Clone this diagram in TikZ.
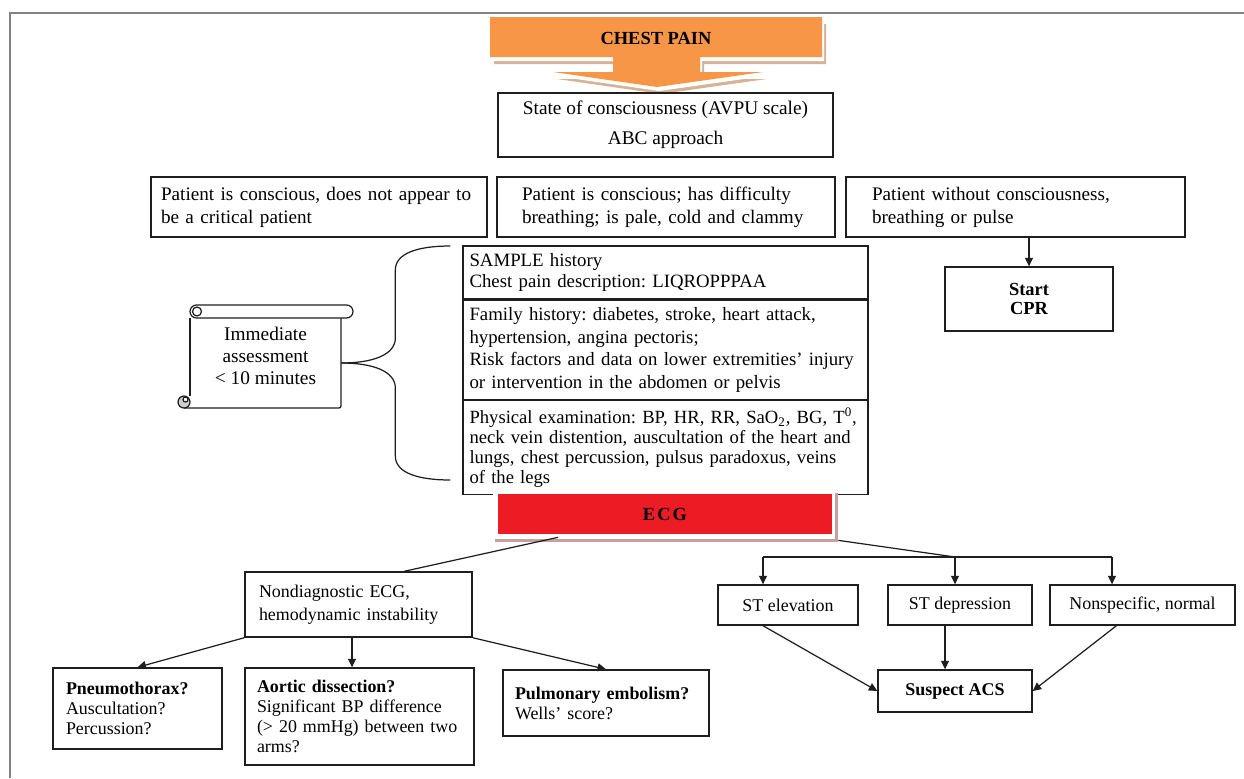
\documentclass[tikz,border=0pt]{standalone}
\usepackage{fontspec}
\setmainfont{Liberation Serif}
\usetikzlibrary{arrows.meta, positioning, calc}
\definecolor{chestorange}{RGB}{247,150,70}
\definecolor{chestshadow}{RGB}{214,178,150}
\definecolor{ecgred}{RGB}{237,28,36}
\definecolor{ecgshadow}{RGB}{196,160,160}
\definecolor{framegray}{RGB}{130,130,130}
\definecolor{boxline}{RGB}{30,30,30}
\definecolor{curlgray}{RGB}{205,205,205}

\begin{document}
\frenchspacing
\begin{tikzpicture}[
    x=0.02cm, y=-0.02cm,
    box/.style={rectangle, draw=boxline, line width=0.8pt, inner ysep=0pt},
    topbox/.style={box, font=\fontsize{10.9}{13}\selectfont, align=left, minimum height=1.2cm},
    midbox/.style={box, align=left, minimum width=8.1cm, text width=7.84cm, inner xsep=0.13cm},
    lowbox/.style={box, align=left},
    stbox/.style={box, font=\fontsize{10.2}{12}\selectfont, minimum height=0.8cm},
    arr/.style={-{Triangle[length=0.17cm, width=0.16cm]}, line width=0.7pt, boxline},
    link/.style={line width=0.7pt, boxline},
]
\useasboundingbox (0,0) rectangle (1244,778);

% Frame
\draw[framegray, line width=1.2pt] (10,778) -- (10,13) -- (1244,13);

% Chest pain arrow
\foreach \dx/\dy/\col in {4/7/chestshadow, 2/4/white, 0/0/chestorange}
  \fill[\col, shift={(\dx,\dy)}] (490,17) -- (822,17) -- (822,57) -- (700,57) -- (700,72) -- (763,72)
    -- (657,87) -- (553,72) -- (613,72) -- (613,57) -- (490,57) -- cycle;
\node[font=\fontsize{10.5}{12}\selectfont\bfseries] (chest) at (656,38) {CHEST PAIN};

% Primary assessment
\node[box, font=\fontsize{11}{17}\selectfont, align=center, minimum width=6.7cm, minimum height=1.28cm] (avpu) at (665.5,125) {State of consciousness (AVPU scale)\\ABC approach};

% Patient groups
\node[topbox, minimum width=6.72cm, text width=6.32cm, inner xsep=0.2cm] (consc) at (319,207) {Patient is conscious, does not appear to\\be a critical patient};
\node[topbox, minimum width=6.76cm, text width=5.76cm, inner xsep=0.5cm] (breath) at (666,207) {Patient is conscious; has difficulty\\breathing; is pale, cold and clammy};
\node[topbox, minimum width=6.78cm, text width=5.74cm, inner xsep=0.52cm] (noconsc) at (1015.5,207) {Patient without consciousness,\\breathing or pulse};
\node[box, font=\fontsize{10.5}{11.3}\selectfont\bfseries, align=center, minimum width=3.36cm, minimum height=1.28cm] (cpr) at (1029,299) {Start\\CPR};
\draw[arr] (cpr.north |- noconsc.south) -- (cpr.north);

% Scroll
\draw[link, rounded corners=0.04cm] (184,408) -- (341,408) -- (341,318);
\draw[link] (190,318) -- (190,396);
\draw[link, fill=white, rounded corners=0.13cm] (190,305) rectangle (353,318);
\draw[link] (197,311.5) circle[radius=0.09cm];
\draw[link, fill=curlgray] (184,402) circle[radius=0.12cm];
\draw[link, fill=white] (185.5,399.5) circle[radius=0.05cm];
\node[font=\fontsize{11}{12.5}\selectfont, align=center, minimum width=3.02cm] (assess) at (265.5,356) {Immediate\\assessment\\< 10 minutes};

% History and examination
\node[midbox, minimum height=1.06cm, font=\fontsize{10.7}{11.9}\selectfont] (sample) at (665.5,272.5) {SAMPLE history\\Chest pain description: LIQROPPPAA};
\node[midbox, minimum height=1.98cm, font=\fontsize{10.7}{12.9}\selectfont, below=0pt of sample] (family) {Family history: diabetes, stroke, heart attack,\\hypertension, angina pectoris;\\Risk factors and data on lower extremities’ injury\\or intervention in the abdomen or pelvis};
\node[midbox, minimum height=1.88cm, font=\fontsize{10.6}{11.5}\selectfont, below=0pt of family] (phys) {Physical examination: BP, HR, RR, SaO\textsubscript{2}, BG, T\textsuperscript{0},\\neck vein distention, auscultation of the heart and\\lungs, chest percussion, pulsus paradoxus, veins\\of the legs};

% Brace
\draw[link] ($(assess.east)+(0,7)$) .. controls +(31,0) and +(0,17) .. ++(54,-25) -- ++(0,-68)
  .. controls +(0,-17) and +(-32,0) .. ++(55,-24);
\draw[link] ($(assess.east)+(0,7)$) .. controls +(31,0) and +(0,-17) .. ++(54,25) -- ++(0,68)
  .. controls +(0,17) and +(-32,0) .. ++(55,24);

% ECG
\fill[ecgshadow] (495,493) rectangle (838,542);
\fill[white] (493,490) rectangle (835,539);
\node[rectangle, fill=ecgred, minimum width=6.68cm, minimum height=0.8cm, font=\fontsize{10.5}{12}\selectfont\bfseries] (ecg) at (665,514) {E\kern1.2pt C\kern1.2pt G};

% Nondiagnostic branch
\node[lowbox, font=\fontsize{10.2}{13}\selectfont, minimum width=4.54cm, minimum height=1.3cm, text width=3.98cm, inner xsep=0.28cm] (nondiag) at (358.5,604.5) {Nondiagnostic ECG,\\hemodynamic instability};
\node[lowbox, font=\fontsize{10.2}{11.3}\selectfont, minimum width=3.38cm, minimum height=1.62cm, text width=2.86cm, inner xsep=0.26cm] (pneumo) at (137.5,708.5) {\textbf{Pneumothorax?}\\Auscultation?\\Percussion?};
\node[lowbox, font=\fontsize{10.2}{11.3}\selectfont, minimum width=4.58cm, minimum height=1.94cm, text width=4.1cm, inner xsep=0.24cm] (aortic) at (359.5,716.5) {\textbf{Aortic dissection?}\\Significant BP difference\\(> 20 mmHg) between two\\arms?};
\node[lowbox, font=\fontsize{10.2}{11.3}\selectfont, minimum width=4.12cm, minimum height=1.32cm, text width=3.64cm, inner xsep=0.24cm] (pulm) at (606,703) {\textbf{Pulmonary embolism?}\\Wells’ score?};

\draw[link] ($(ecg.south west)!0.18!(ecg.south east)+(0,3)$) -- ($(nondiag.north west)!0.7!(nondiag.north east)$);
\draw[arr] (nondiag.south west) -- (pneumo.north);
\draw[arr] ([xshift=-0.13cm]nondiag.south) -- ([xshift=-0.13cm]nondiag.south |- aortic.north);
\draw[arr] (nondiag.south east) -- (pulm.north);

% ST branch
\node[stbox, minimum width=2.8cm] (stelev) at (788,605) {ST elevation};
\node[stbox, minimum width=2.88cm] (stdep) at (960,605) {ST depression};
\node[stbox, minimum width=3.7cm] (nonspec) at (1142.5,605) {Nonspecific, normal};
\node[box, font=\fontsize{10.2}{12}\selectfont\bfseries, minimum width=3.08cm, minimum height=0.84cm] (suspect) at (955,691) {Suspect ACS};

\coordinate (jmid) at (955,557);
\coordinate (jl) at (763,557);
\coordinate (jr) at (1112,557);
\draw[link] ($(ecg.south east)+(6,6)$) -- (jmid);
\draw[link] (jl) -- (jr);
\draw[arr] (jl) -- (jl |- stelev.north);
\draw[arr] (jmid) -- (jmid |- stdep.north);
\draw[arr] (jr) -- (jr |- nonspec.north);

\draw[arr] (jl |- stelev.south) -- (suspect.west);
\draw[arr] ([xshift=-0.2cm]suspect.north |- stdep.south) -- ([xshift=-0.2cm]suspect.north);
\draw[arr] ($(nonspec.south west)!0.36!(nonspec.south east)$) -- (suspect.east);

\end{tikzpicture}
\end{document}
